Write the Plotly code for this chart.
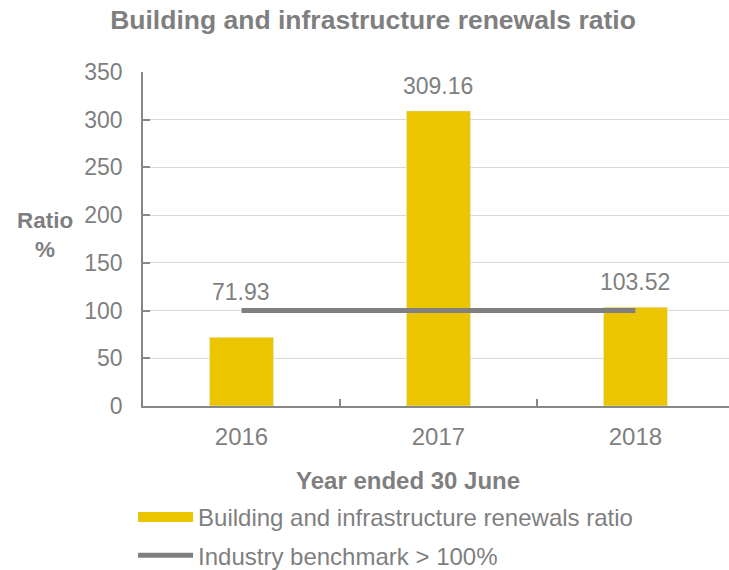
import plotly.graph_objects as go

# ---- data ----
years = ["2016", "2017", "2018"]
renewals_ratio = [71.93, 309.16, 103.52]
benchmark = [100, 100, 100]
y_ticks = [0, 50, 100, 150, 200, 250, 300, 350]

title_text = "Building and infrastructure renewals ratio"
series_name = "Building and infrastructure renewals ratio"
benchmark_name = "Industry benchmark > 100%"
x_title = "Year ended 30 June"
y_title = "Ratio<br>%"

# ---- style ----
YELLOW = "#EAC500"
GRAY_LINE = "#7F7F7F"
TEXT = "#7F7F7F"
AXIS = "#878787"
GRID = "#D9D9D9"
FONT = "Liberation Sans, Arial, sans-serif"
label_shift = [30, 10, 10]

fig = go.Figure()
fig.add_trace(go.Bar(
    x=years, y=renewals_ratio, marker_color=YELLOW, width=0.325,
    showlegend=False, name=series_name, hoverinfo="x+y",
))
# legend swatch for the bars (wide rectangle like the original)
fig.add_trace(go.Scatter(
    x=[None], y=[None], mode="lines", line=dict(color=YELLOW, width=15),
    name=series_name, legendgroup="a",
))
fig.add_trace(go.Scatter(
    x=years, y=benchmark, mode="lines", line=dict(color=GRAY_LINE, width=5),
    name=benchmark_name, legendgroup="b",
))

for i, v in enumerate(renewals_ratio):
    fig.add_annotation(
        x=i, y=v, text=f"{v:.2f}", showarrow=False, yanchor="bottom",
        yshift=label_shift[i], font=dict(size=23, color=TEXT, family=FONT),
    )

fig.add_annotation(
    xref="paper", yref="paper", x=-0.167, y=0.512, text=f"<b>{y_title}</b>",
    showarrow=False, xanchor="center", yanchor="middle", align="center",
    font=dict(size=22.5, color=TEXT, family=FONT),
)
fig.add_annotation(
    xref="paper", yref="paper", x=0.452, y=-0.2216, text=f"<b>{x_title}</b>",
    showarrow=False, xanchor="center", yanchor="middle",
    font=dict(size=24, color=TEXT, family=FONT),
)

fig.update_layout(
    width=729, height=570,
    margin=dict(l=143, r=0, t=72, b=164, autoexpand=False),
    paper_bgcolor="white", plot_bgcolor="white",
    font=dict(family=FONT, color=TEXT, size=22),
    title=dict(text=f"<b>{title_text}</b>", x=0.5117, xanchor="center",
               y=0.965, yanchor="middle",
               font=dict(size=26.5, color=TEXT, family=FONT)),
    showlegend=True,
    legend=dict(
        x=-0.017, y=-0.266, xanchor="left", yanchor="top",
        orientation="v", itemwidth=55, tracegroupgap=4,
        font=dict(size=24, color=TEXT, family=FONT),
        bgcolor="rgba(0,0,0,0)", borderwidth=0,
    ),
    bargap=0.675,
)
fig.update_xaxes(
    type="category", range=[-0.5, 2.475],
    showline=True, linecolor=AXIS, linewidth=1.5,
    ticks="inside", tickson="boundaries", ticklen=7, tickcolor=AXIS, tickwidth=1.5,
    showgrid=False, ticklabelstandoff=8,
    tickfont=dict(size=24, color=TEXT, family=FONT),
)
fig.update_yaxes(
    range=[0, 350], tickvals=y_ticks,
    showline=True, linecolor=AXIS, linewidth=1.5,
    ticks="inside", ticklen=7, tickcolor=AXIS, tickwidth=1.5,
    showgrid=True, gridcolor=GRID, gridwidth=1, zeroline=False,
    ticklabelstandoff=14,
    tickfont=dict(size=23, color=TEXT, family=FONT),
)

fig.write_html("out.html")
